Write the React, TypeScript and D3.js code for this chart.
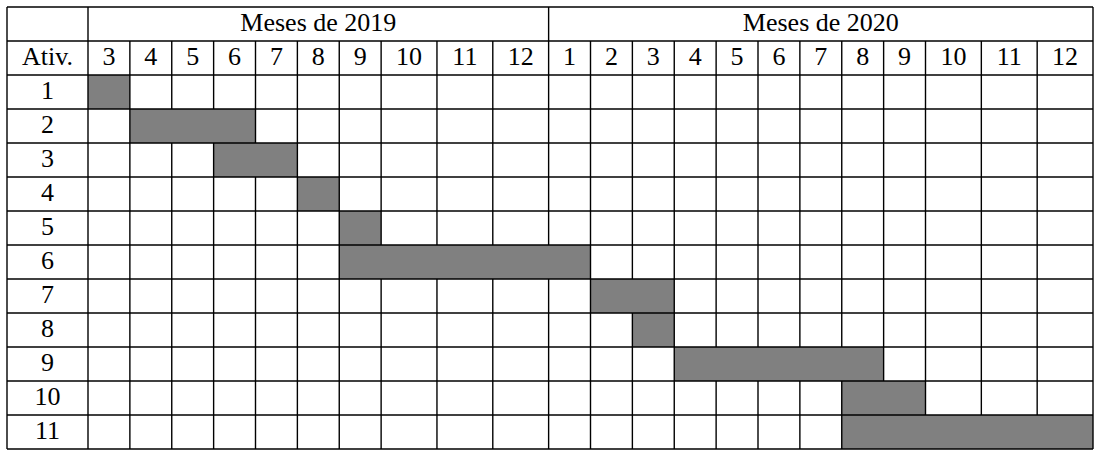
import * as d3 from "d3";
import React from "react";

const W = 1099;
const H = 455;

// table frame
const left = 7;
const labelColRight = 88;
const right = 1093;
const top = 7;
const bottom = 449;

const months2019 = [3, 4, 5, 6, 7, 8, 9, 10, 11, 12];
const months2020 = [1, 2, 3, 4, 5, 6, 7, 8, 9, 10, 11, 12];
const yearLabels = ["Meses de 2019", "Meses de 2020"];
const activities = ["1", "2", "3", "4", "5", "6", "7", "8", "9", "10", "11"];
const startMonths = ["2019-3", "2019-4", "2019-6", "2019-8", "2019-9", "2019-9", "2020-2", "2020-3", "2020-4", "2020-8", "2020-8"];
const endMonths = ["2019-3", "2019-6", "2019-7", "2019-8", "2019-9", "2020-1", "2020-3", "2020-3", "2020-8", "2020-9", "2020-12"];

const columns = [
  ...months2019.map((m) => ({ key: `2019-${m}`, label: String(m), year: 0 })),
  ...months2020.map((m) => ({ key: `2020-${m}`, label: String(m), year: 1 })),
];

// two-digit months are wider, like the LaTeX table
const units = columns.map((c) => (c.label.length > 1 ? 4 : 3));
const cum = [0];
units.forEach((u) => cum.push(cum[cum.length - 1] + u));

const xUnit = d3.scaleLinear().domain([0, cum[cum.length - 1]]).range([labelColRight, right]);
const colStart: Record<string, number> = {};
const colEnd: Record<string, number> = {};
columns.forEach((c, i) => {
  colStart[c.key] = xUnit(cum[i]);
  colEnd[c.key] = xUnit(cum[i + 1]);
});

const rows = ["hdr1", "hdr2", ...activities];
const yScale = d3.scaleBand().domain(rows).range([top, bottom]);
const bh = yScale.bandwidth();

const font = "'Liberation Serif', 'Times New Roman', serif";
const fontSize = 26;
const base = 6.5;

export default function App() {
  const yearSplit = colStart["2020-1"];
  const boundaries = columns.slice(1).map((c) => colStart[c.key]);

  const vSegs: { x: number; y1: number; y2: number }[] = [];
  const h1 = yScale("hdr1")!;
  const h2 = yScale("hdr2")!;
  // header row 1: only the year split
  vSegs.push({ x: yearSplit, y1: h1, y2: h1 + bh });
  // header row 2: all boundaries
  boundaries.forEach((x) => vSegs.push({ x, y1: h2, y2: h2 + bh }));
  // data rows: skip boundaries inside bars
  activities.forEach((a, i) => {
    const y = yScale(a)!;
    const s = colStart[startMonths[i]];
    const e = colEnd[endMonths[i]];
    boundaries.forEach((x) => {
      if (x > s + 1 && x < e - 1) return;
      vSegs.push({ x, y1: y, y2: y + bh });
    });
  });

  const stroke = "#000";
  const sw = 1.4;

  return (
    <svg width={W} height={H} style={{ position: "absolute", left: 0, top: 0, background: "#fff" }}>
      <rect x={0} y={0} width={W} height={H} fill="#fff" />
      {activities.map((a, i) => (
        <rect
          key={"bar" + a}
          x={colStart[startMonths[i]]}
          y={yScale(a)}
          width={colEnd[endMonths[i]] - colStart[startMonths[i]]}
          height={bh}
          fill="#808080"
        />
      ))}
      {/* horizontal lines */}
      {rows.map((r) => (
        <line key={"h" + r} x1={left} x2={right} y1={yScale(r)} y2={yScale(r)} stroke={stroke} strokeWidth={sw} />
      ))}
      <line x1={left} x2={right} y1={bottom} y2={bottom} stroke={stroke} strokeWidth={sw} />
      {/* full-height verticals */}
      {[left, labelColRight, right].map((x, i) => (
        <line key={"vf" + i} x1={x} x2={x} y1={top} y2={bottom} stroke={stroke} strokeWidth={sw} />
      ))}
      {vSegs.map((s, i) => (
        <line key={"v" + i} x1={s.x} x2={s.x} y1={s.y1} y2={s.y2} stroke={stroke} strokeWidth={sw} />
      ))}
      {/* year headers */}
      {yearLabels.map((t, i) => {
        const x0 = i === 0 ? labelColRight : yearSplit;
        const x1 = i === 0 ? yearSplit : right;
        return (
          <text
            key={t}
            x={(x0 + x1) / 2}
            y={h1 + bh / 2 + base}
            textAnchor="middle"
            fontFamily={font}
            fontSize={fontSize}
          >
            {t}
          </text>
        );
      })}
      <text x={(left + labelColRight) / 2} y={h2 + bh / 2 + base} textAnchor="middle" fontFamily={font} fontSize={fontSize}>
        Ativ.
      </text>
      {columns.map((c) => (
        <text
          key={"m" + c.key}
          x={(colStart[c.key] + colEnd[c.key]) / 2}
          y={h2 + bh / 2 + base}
          textAnchor="middle"
          fontFamily={font}
          fontSize={fontSize}
        >
          {c.label}
        </text>
      ))}
      {activities.map((a) => (
        <text
          key={"a" + a}
          x={(left + labelColRight) / 2}
          y={yScale(a)! + bh / 2 + base}
          textAnchor="middle"
          fontFamily={font}
          fontSize={fontSize}
        >
          {a}
        </text>
      ))}
    </svg>
  );
}
